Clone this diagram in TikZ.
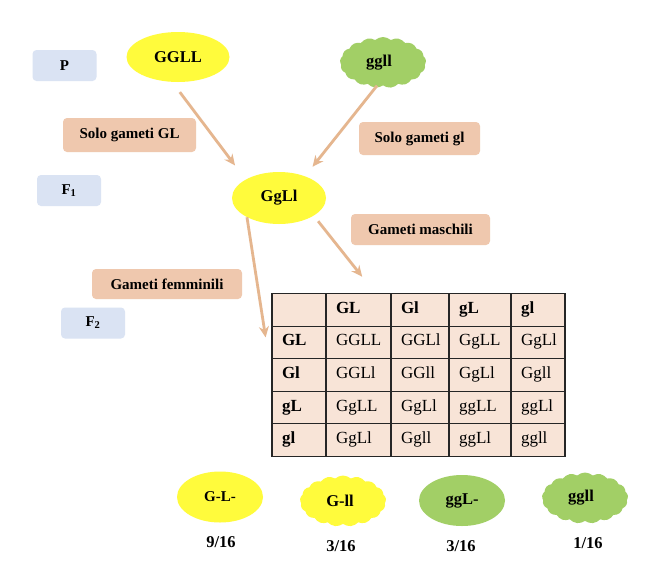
\documentclass[tikz,border=0pt]{standalone}
\usepackage{fontspec}
\setmainfont{Liberation Serif}
\usepackage{tikz}
\usetikzlibrary{arrows.meta, matrix, shapes.geometric, shapes.symbols}

\definecolor{gialloF}{HTML}{FFFB3C}
\definecolor{verdeF}{HTML}{A2CF66}
\definecolor{bluF}{HTML}{DAE3F3}
\definecolor{pescaF}{HTML}{EFC8AE}
\definecolor{cellaF}{HTML}{F8E4D7}
\definecolor{frecciaC}{HTML}{E5B68F}

\tikzset{
    gen/.style={rectangle, rounded corners=4, fill=bluF, minimum width=64, minimum height=31, font=\fontsize{15}{18}\selectfont\bfseries},
    nota/.style={rectangle, rounded corners=4, fill=pescaF, minimum height=32, font=\fontsize{15}{18}\selectfont\bfseries},
    uovo/.style={ellipse, inner sep=0, minimum width=86, minimum height=51, font=\fontsize{16.5}{18}\selectfont\bfseries},
    nube/.style={cloud, cloud puffs=17, cloud puff arc=85, aspect=1.7, inner sep=0, minimum width=86, minimum height=51, font=\fontsize{16.5}{18}\selectfont\bfseries},
    freq/.style={font=\fontsize{16.5}{18}\selectfont\bfseries},
    freccia/.style={-{Stealth[length=11, width=10]}, line width=2.8, frecciaC}
}

\begin{document}
\begin{tikzpicture}[x=1pt, y=-1pt]
    \useasboundingbox[fill=white] (0,0) rectangle (650,579);

    \node[gen] (P) at (64.5,65.5) {P};
    \node[gen] (F1) at (69,190.5) {F\textsubscript{1}};
    \node[gen] (F2) at (93,323) {F\textsubscript{2}};

    \node[uovo, fill=gialloF, minimum width=103, minimum height=50] (GGLL) at (178,57) {GGLL};
    \node[nube, fill=verdeF] (ggll) at (383,62.5) {\kern-8pt ggll};
    \node[uovo, fill=gialloF, minimum width=94, minimum height=52] (GgLl) at (279,198) {GgLl};

    \node[nota, minimum width=133, minimum height=34] (soloGL) at (129.5,135) {Solo gameti GL};
    \node[nota, minimum width=121, minimum height=33] (sologl) at (419.5,138.5) {Solo gameti gl};
    \node[nota, minimum width=139, minimum height=31] (maschili) at (420.5,229.5) {Gameti maschili};
    \node[nota, minimum width=150, minimum height=30] (femminili) at (167,284) {Gameti femminili};

    \matrix[
        matrix of nodes, inner sep=0, outer sep=0, nodes in empty cells, fill=cellaF,
        row sep=-1.1, column sep=-1.1,
        nodes={draw=black!85, line width=1.1, inner xsep=10, inner ysep=0, minimum height=32.6,
            align=left, text height=12, text depth=5, font=\fontsize{17}{18}\selectfont},
        column 1/.style={nodes={text width=34, font=\fontsize{17}{18}\selectfont\bfseries}},
        column 2/.style={nodes={text width=45}},
        column 3/.style={nodes={text width=38}},
        column 4/.style={nodes={text width=42}},
        column 5/.style={nodes={text width=34}},
        row 1/.style={nodes={font=\fontsize{17}{18}\selectfont\bfseries}}
    ] (punnett) at (418.5,375) {
          & GL   & Gl   & gL   & gl   \\
       GL & GGLL & GGLl & GgLL & GgLl \\
       Gl & GGLl & GGll & GgLl & Ggll \\
       gL & GgLL & GgLl & ggLL & ggLl \\
       gl & GgLl & Ggll & ggLl & ggll \\
    };

    \draw[freccia, shorten <=12.6, shorten >=17.6] (GGLL.257) -- (GgLl.151);
    \draw[freccia, shorten >=12] ([xshift=-6]ggll.south) -- (GgLl.40);
    \draw[freccia, shorten >=38] (GgLl.211) -- (punnett.west);
    \draw[freccia, shorten <=7, shorten >=21.4] (GgLl.-27) -- ([xshift=17]punnett-1-2.north);

    \node[uovo, fill=gialloF, font=\fontsize{15}{18}\selectfont\bfseries] (fenoA) at (220,497) {G-L-};
    \node[nube, fill=gialloF] (fenoB) at (343,501) {\kern-6pt G-ll};
    \node[uovo, fill=verdeF] (fenoC) at (462,500.5) {ggL-};
    \node[nube, fill=verdeF] (fenoD) at (585,498) {\kern-8pt ggll};

    \node[freq] (freqA) at (221,542) {9/16};
    \node[freq] (freqB) at (341,546) {3/16};
    \node[freq] (freqC) at (461,546) {3/16};
    \node[freq] (freqD) at (588,543) {1/16};
\end{tikzpicture}
\end{document}
